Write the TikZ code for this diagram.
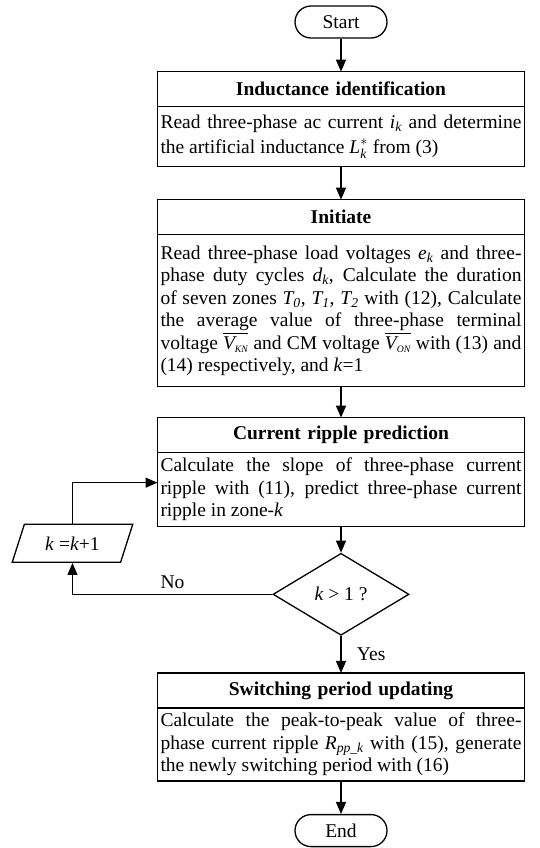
\documentclass[tikz,border=0pt]{standalone}
\usepackage{amsmath}
\usepackage{fontspec}
\setmainfont{Liberation Serif}
\usepackage{tikz}
\usetikzlibrary{arrows.meta}
\usetikzlibrary{positioning,shapes,calc}
\newcommand{\chartfont}{\fontsize{19.5}{22.5}\selectfont}
\newcommand{\ivar}[1]{\text{\itshape #1}}
\tikzstyle{terminal} = [draw, rounded corners=16pt, minimum width=92pt, minimum height=32pt, inner sep=0pt]
\tikzstyle{stage_head} = [draw, outer sep=0pt, text width=361pt, inner xsep=3pt, inner ysep=0pt, minimum height=35pt, align=center, font=\chartfont\bfseries]
\tikzstyle{stage_body} = [stage_head, align=justify, font=\chartfont, inner ysep=3pt]
\tikzstyle{decision} = [draw, diamond, aspect=1.66, minimum width=136pt, minimum height=82pt, inner sep=0pt]
\tikzstyle{update} = [draw, trapezium, trapezium left angle=63, trapezium right angle=117, trapezium stretches=true, minimum width=121pt, minimum height=38pt, inner sep=0pt]
\tikzstyle{arrow_flow} = [-{Triangle[length=12pt,width=10pt]}, line width=1.3pt]

\begin{document}
\begin{tikzpicture}[line width=1.3pt, font=\chartfont]
      \useasboundingbox (0,0) rectangle (540pt,-848pt);
      \node[terminal] (start) at (341pt,-22pt) {Start};
      \node[stage_head] (ind_head) [below=33pt of start] {Inductance identification};
      \node[stage_body, minimum height=60pt, font=\fontsize{19.5}{25}\selectfont] (ind_body) [below=0pt of ind_head] {Read three-phase ac current $\ivar{i}_{\ivar{k}}$ and determine\linebreak the artificial inductance $\ivar{L}^{*}_{\ivar{k}}$ from (3)};
      \node[stage_head] (init_head) [below=33pt of ind_body] {Initiate};
      \node[stage_body, minimum height=152pt] (init_body) [below=0pt of init_head] {Read three-phase load voltages $\ivar{e}_{\ivar{k}}$ and three-\linebreak phase duty cycles $\ivar{d}_{\ivar{k}}$, Calculate the duration\linebreak of seven zones $\ivar{T}_{\ivar{0}}$, $\ivar{T}_{\ivar{1}}$, $\ivar{T}_{\ivar{2}}$ with (12), Calculate\linebreak the average value of three-phase terminal\linebreak voltage $\overline{\ivar{V}_{\scriptscriptstyle\ivar{KN}}}$ and CM voltage $\overline{\ivar{V}_{\scriptscriptstyle\ivar{ON}}}$ with (13) and\linebreak (14) respectively, and \textit{k}=1};
      \node[stage_head] (pred_head) [below=31pt of init_body] {Current ripple prediction};
      \node[stage_body, minimum height=74pt] (pred_body) [below=0pt of pred_head] {Calculate the slope of three-phase current\linebreak ripple with (11), predict three-phase current\linebreak ripple in zone-\textit{k}};
      \node[decision] (check) [below=26pt of pred_body] {\textit{k} > 1 ?};
      \node[update] (incr) [left=145pt of check, yshift=51pt] {\textit{k} =\textit{k}+1};
      \node[stage_head] (upd_head) [below=37pt of check] {Switching period updating};
      \node[stage_body, minimum height=73pt] (upd_body) [below=0pt of upd_head] {Calculate the peak-to-peak value of three-\linebreak phase current ripple $\ivar{R}_{\ivar{pp\_k}}$ with (15), generate\linebreak the newly switching period with (16)};
      \node[terminal] (end) [below=33pt of upd_body] {End};

      % Flow arrows
      \draw[arrow_flow] (start) -- (ind_head);
      \draw[arrow_flow] (ind_body) -- (init_head);
      \draw[arrow_flow] (init_body) -- (pred_head);
      \draw[arrow_flow] (pred_body) -- (check);
      \draw[arrow_flow] (check) -- node[right=12pt] (yes_lbl) {Yes} (upd_head);
      \draw[arrow_flow] (upd_body) -- (end);

      % Loop back
      \draw[arrow_flow] (check.west) -| node[pos=0.25, above=2pt] (no_lbl) {No} (incr.south);
      \draw[arrow_flow] (incr.north) |- ([yshift=7pt]pred_body.west);

\end{tikzpicture}
\end{document}
